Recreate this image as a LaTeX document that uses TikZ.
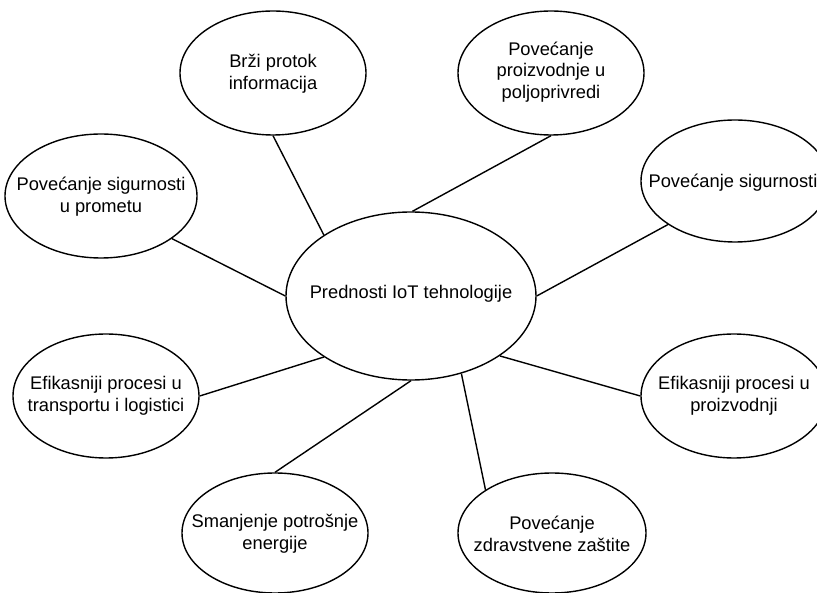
\documentclass[tikz,border=0pt]{standalone}
\usepackage{fontspec}
\setmainfont{Liberation Sans}
\usetikzlibrary{shapes.geometric}
\tikzset{
  ell/.style={draw=black, line width=1.4pt, ellipse, inner sep=0pt},
  txt/.style={align=center, inner sep=0pt, font=\fontsize{18.3}{21.7}\selectfont},
  link/.style={draw=black, line width=1.4pt}
}
\begin{document}
\begin{tikzpicture}[x=1pt,y=-1pt]
\useasboundingbox (0,0) rectangle (817,593);
% center
\node[ell, minimum width=250pt, minimum height=168pt] (c) at (411,296) {};
\node[txt] (ct) at (411,294) {Prednosti IoT tehnologije};
% outer ellipses
\node[ell, minimum width=186pt, minimum height=124pt] (e1) at (273,73) {};
\node[txt] (t1) at (273,74) {Brži protok\\informacija};
\node[ell, minimum width=186pt, minimum height=124pt] (e2) at (551,73) {};
\node[txt] (t2) at (551,72) {Povećanje\\proizvodnje u\\poljoprivredi};
\node[ell, minimum width=188pt, minimum height=122pt] (e3) at (735,181) {};
\node[txt] (t3) at (733,183) {Povećanje sigurnosti};
\node[ell, minimum width=192pt, minimum height=124pt] (e4) at (101,196) {};
\node[txt] (t4) at (101,197) {Povećanje sigurnosti\\u prometu};
\node[ell, minimum width=186pt, minimum height=124pt] (e5) at (106,396) {};
\node[txt] (t5) at (106,396) {Efikasniji procesi u\\transportu i logistici};
\node[ell, minimum width=186pt, minimum height=124pt] (e6) at (734,396) {};
\node[txt] (t6) at (734,396) {Efikasniji procesi u\\proizvodnji};
\node[ell, minimum width=186pt, minimum height=120pt] (e7) at (275,533) {};
\node[txt] (t7) at (275,534) {Smanjenje potrošnje\\energije};
\node[ell, minimum width=188pt, minimum height=120pt] (e8) at (552,533) {};
\node[txt] (t8) at (552,534) {Povećanje\\zdravstvene zaštite};
% connectors
\draw[link] (e1.270) -- (c.145);
\draw[link] (e2.270) -- (c.89);
\draw[link] (e3.213) -- (c.0);
\draw[link] (e4.-31) -- (c.180);
\draw[link] (e5.0) -- (c.215);
\draw[link] (e6.180) -- (c.-34);
\draw[link] (e7.90) -- (c.270);
\draw[link] (e8.147) -- (c.-57);
\end{tikzpicture}
\end{document}
